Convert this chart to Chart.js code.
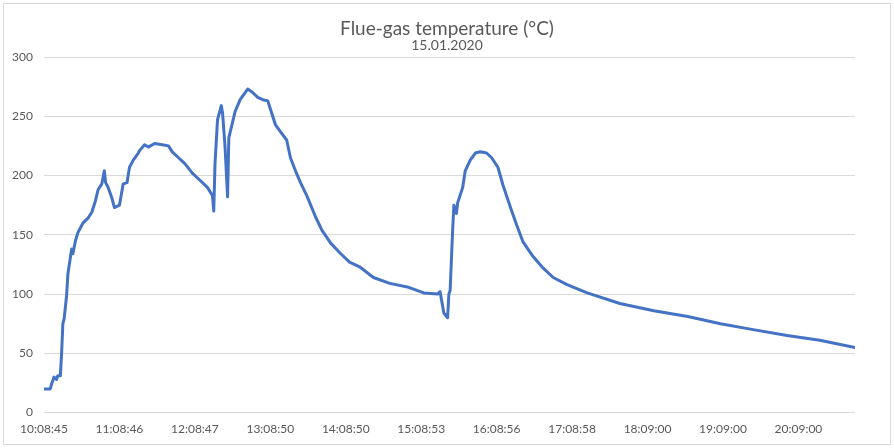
<!DOCTYPE html>
<html>
<head>
<meta charset="utf-8">
<script src="https://cdn.jsdelivr.net/npm/chart.js@4"></script>
<style>
html,body{margin:0;padding:0;background:#fff;}
#wrap{width:894px;height:448px;position:relative;}
</style>
</head>
<body>
<div id="wrap"><canvas id="c" width="894" height="448"></canvas></div>
<script>
// Sample index (minutes from 10:08:45) and temperature values
const sampleMinutes = [0,5,6,8,10,11,13,14,15,16,18,19,21,22,23,25,27,31,35,38,41,43,46,48,49,51,54,56,60,63,66,68,71,75,76,80,83,88,94,99,102,107,112,118,124,130,134,135,136,138,141,142,144,146,147,150,152,156,160,162,166,170,174,178,181,184,188,193,196,200,204,209,216,221,228,236,243,251,262,275,289,302,313,315,317,318,321,322,323,325,326,328,329,333,335,339,343,347,352,356,361,365,371,376,381,388,396,405,416,432,458,485,512,538,564,591,617,645];
const temperatures = [20,20,24,30,28,31,31,50,75,79,99,117,131,138,134,145,152,160,164,169,179,188,193,204,194,190,181,173,175,193,194,207,213,219,221,226,224,227,226,225,220,215,210,202,196,190,183,170,210,247,259,253,224,182,232,245,254,264,270,273,270,266,264,263,253,243,237,230,215,204,194,183,165,154,143,134,127,123,114,109,106,101,100,102,90,84,80,100,103,154,175,168,177,190,204,213,219,220,219,215,207,192,173,158,144,133,123,114,108,101,92,86,81,75,70,65,61,55];
const xTickLabels = ['10:08:45','11:08:46','12:08:47','13:08:50','14:08:50','15:08:53','16:08:56','17:08:58','18:09:00','19:09:00','20:09:00'];
const yTicks = [0,50,100,150,200,250,300];
const seriesName = 'Flue-gas temperature';
const chartTitle = 'Flue-gas temperature (°C)';
const chartSubtitle = '15.01.2020';

const points = sampleMinutes.map((m,i)=>({x:m,y:temperatures[i]}));
const FONT = 'Lato, "Open Sans", sans-serif';
const TXT = '#595959';

const borderPlugin = {
  id:'frame',
  beforeDraw(chart){
    const ctx = chart.ctx;
    ctx.save();
    ctx.fillStyle = '#ffffff';
    ctx.fillRect(0,0,chart.width,chart.height);
    ctx.strokeStyle = '#d9d9d9';
    ctx.lineWidth = 1;
    ctx.strokeRect(3.5,3.5,887,441);
    ctx.restore();
  }
};

new Chart(document.getElementById('c'), {
  type:'line',
  data:{datasets:[{label:seriesName,data:points,borderColor:'#4472C4',borderWidth:3,pointRadius:0,tension:0,fill:false,borderJoinStyle:'round',borderCapStyle:'round'}]},
  options:{
    responsive:false,
    animation:false,
    layout:{padding:{left:0,right:0,top:0,bottom:3}},
    plugins:{
      legend:{display:false},
      tooltip:{enabled:false},
      title:{display:true,text:chartTitle,color:TXT,font:{family:FONT,size:19,weight:'normal',lineHeight:1.0},padding:{top:19,bottom:0}},
      subtitle:{display:true,text:chartSubtitle,color:TXT,font:{family:FONT,size:14,weight:'normal',lineHeight:1.0},padding:{top:0,bottom:5}}
    },
    scales:{
      x:{
        type:'linear',min:0,max:645,
        grid:{display:false,drawTicks:false},
        border:{display:false},
        afterBuildTicks(scale){ scale.ticks = xTickLabels.map((_,i)=>({value:i*60})); },
        ticks:{autoSkip:false,maxRotation:0,padding:9,color:TXT,font:{family:FONT,size:12},
          callback:(v)=>xTickLabels[Math.round(v/60)]}
      },
      y:{
        min:0,max:300,
        afterFit(scale){ scale.width = 44; },
        afterBuildTicks(scale){ scale.ticks = yTicks.map(v=>({value:v})); },
        grid:{color:'#d9d9d9',lineWidth:1,drawTicks:false},
        border:{display:false},
        ticks:{padding:11,color:TXT,font:{family:FONT,size:12}}
      },
      yRight:{
        position:'right',min:0,max:300,
        afterFit(scale){ scale.width = 39; },
        grid:{display:false,drawTicks:false},
        border:{display:false},
        ticks:{display:false}
      }
    }
  },
  plugins:[borderPlugin]
});
</script>
</body>
</html>
